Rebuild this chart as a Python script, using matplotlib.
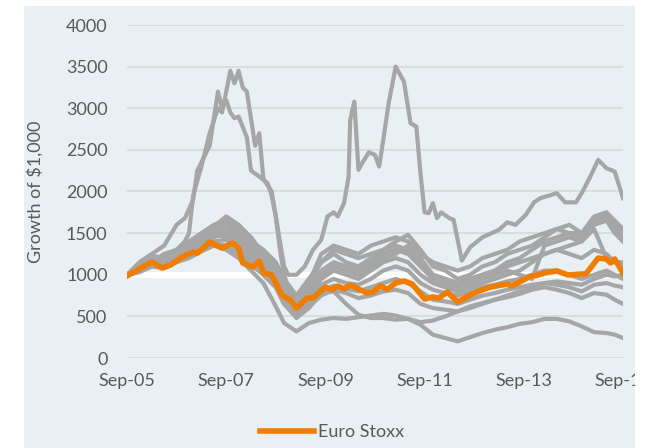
#!/usr/bin/env python3
"""
Growth of $1,000 - Euro Stoxx vs individual holdings (Sep-05 to Sep-15)

Gray lines are single stocks, the orange line is the Euro Stoxx index.
x values are months since Sep-05.
"""

import matplotlib
matplotlib.use("Agg")
import matplotlib.pyplot as plt
from matplotlib.patches import Rectangle

plt.rcParams.update({
    'font.family': ['Lato', 'DejaVu Sans'],
    'font.size': 13,
    'axes.linewidth': 0,
})

# x tick positions (months since Sep-05) and their labels
tick_months = [0, 24, 48, 72, 96, 120]
tick_labels = ['Sep-05', 'Sep-07', 'Sep-09', 'Sep-11', 'Sep-13', 'Sep-15']
y_ticks = [0, 500, 1000, 1500, 2000, 2500, 3000, 3500, 4000]

# shared month grid for most of the gray lines
grid_m = [0, 3, 6, 9, 12, 15, 18, 21, 24, 27, 30, 33, 36, 38, 41, 44, 47, 50, 53, 56, 59,
          62, 65, 68, 71, 74, 77, 80, 83, 86, 89, 92, 95, 98, 101, 104, 107, 110, 113, 116, 118, 120]

stock_c = [1000, 1120, 1230, 1200, 1300, 1400, 1500, 1600, 1650, 1550, 1400, 1300, 1150, 950, 750,
           950, 1150, 1250, 1150, 1100, 1200, 1300, 1400, 1480, 1300, 1100, 1050, 950, 1000, 1100,
           1150, 1250, 1300, 1350, 1450, 1550, 1600, 1500, 1700, 1750, 1650, 1550]
stock_d = [1000, 1080, 1180, 1150, 1250, 1350, 1450, 1550, 1600, 1500, 1350, 1200, 1050, 850, 650,
           800, 1000, 1100, 1050, 1000, 1100, 1200, 1250, 1350, 1200, 1000, 950, 900, 950, 1000,
           1050, 1150, 1200, 1300, 1400, 1450, 1500, 1450, 1650, 1700, 1550, 1450]
stock_e = [1000, 1100, 1200, 1180, 1280, 1380, 1480, 1580, 1700, 1600, 1450, 1250, 1100, 900, 700,
           850, 1050, 1150, 1100, 1050, 1150, 1250, 1300, 1250, 1100, 950, 900, 850, 900, 950,
           1000, 1050, 1000, 950, 1350, 1400, 1450, 1400, 1600, 1650, 1500, 1400]
stock_f = [1000, 1060, 1150, 1130, 1220, 1320, 1420, 1500, 1550, 1450, 1300, 1150, 1000, 800, 620,
           750, 950, 1050, 1000, 950, 1050, 1150, 1200, 1150, 1000, 900, 850, 800, 850, 900,
           950, 1000, 1050, 1150, 1250, 1300, 1350, 1400, 1550, 1200, 1150, 1150]
stock_g = [1000, 1050, 1130, 1120, 1200, 1280, 1380, 1450, 1500, 1400, 1250, 1100, 950, 750, 580,
           700, 880, 950, 900, 880, 950, 1050, 1100, 1050, 900, 820, 780, 750, 800, 850,
           880, 920, 950, 1000, 1050, 1050, 1000, 950, 1000, 1050, 1000, 950]
stock_h = [1000, 1080, 1160, 1150, 1230, 1300, 1400, 1480, 1450, 1350, 1200, 1050, 900, 700, 560,
           650, 800, 870, 830, 800, 850, 900, 950, 900, 800, 700, 680, 650, 700, 750,
           780, 820, 850, 880, 900, 880, 850, 800, 880, 900, 870, 850]
stock_i = [1000, 1040, 1120, 1100, 1180, 1250, 1330, 1400, 1420, 1300, 1150, 1000, 850, 650, 480,
           600, 780, 800, 650, 520, 480, 480, 460, 470, 430, 450, 500, 560, 620, 660,
           700, 730, 770, 820, 850, 820, 780, 720, 780, 760, 700, 650]
stock_j = [1000, 1050, 1100, 1080, 1150, 1200, 1280, 1350, 1300, 1200, 1050, 900, 620, 420, 320,
           420, 460, 480, 470, 490, 510, 530, 510, 470, 400, 280, 240, 200, 250, 300,
           340, 370, 410, 430, 470, 470, 440, 380, 310, 300, 280, 240]
stock_k = [1000, 1100, 1180, 1160, 1260, 1350, 1450, 1550, 1620, 1550, 1400, 1250, 1100, 900, 680,
           900, 1150, 1300, 1250, 1200, 1250, 1300, 1350, 1300, 1150, 1000, 950, 900, 950, 1000,
           1050, 1100, 1150, 1200, 1250, 1300, 1250, 1200, 1300, 1250, 1150, 1100]
stock_l = [1000, 1030, 1100, 1090, 1170, 1250, 1320, 1380, 1350, 1250, 1120, 1000, 850, 650, 520,
           620, 750, 820, 780, 720, 750, 800, 820, 780, 650, 600, 580, 560, 600, 650,
           700, 750, 800, 850, 900, 920, 900, 880, 950, 1000, 980, 1000]

# the two spiky names get their own month lists
stock_a_m = [0, 3, 6, 9, 12, 14, 16, 17, 18.5, 20, 22, 23, 24, 25, 26, 27, 29, 30, 32, 34, 35, 36, 37,
             38, 39, 41, 44, 47, 50, 53, 56, 59, 62, 65, 68, 71, 74, 77, 80, 83, 86, 89, 92, 95, 98,
             101, 104, 107, 110, 113, 116, 118, 120]
stock_a = [1000, 1150, 1250, 1350, 1600, 1680, 1900, 2250, 2400, 2550, 3200, 3000, 3100, 2950, 2880,
           2900, 2650, 2250, 2180, 2100, 1950, 1700, 1300, 1000, 850, 720, 900, 1250, 1350, 1300,
           1250, 1350, 1400, 1450, 1400, 1250, 1150, 1100, 1050, 1100, 1200, 1250, 1300, 1400, 1450,
           1500, 1550, 1500, 1500, 1650, 1700, 1600, 1500]

stock_b_m = [0, 3, 6, 9, 12, 14, 15, 16, 18, 20, 22, 23, 24, 25, 26, 27, 28, 29, 31, 32, 33, 35, 36,
             37, 38, 39, 41, 43, 45, 47, 48.5, 50, 51, 52.5, 53.6, 54, 55, 56, 57, 58.5, 60, 61, 62,
             63.3, 65, 67, 68.6, 70, 71, 72, 73, 74, 75, 76, 78, 79, 80, 81, 83, 86, 90, 92, 94,
             96.5, 98.5, 100, 104, 106, 108.6, 110, 112, 114, 116, 118, 120]
stock_b = [1000, 1100, 1150, 1250, 1300, 1400, 1500, 1950, 2300, 2700, 3000, 2950, 3200, 3450, 3300,
           3450, 3250, 3200, 2550, 2700, 2150, 2000, 1700, 1400, 1100, 1000, 1000, 1100, 1300, 1420,
           1700, 1750, 1700, 1860, 2170, 2860, 3080, 2260, 2350, 2470, 2440, 2300, 2620, 3060, 3500,
           3320, 2820, 2780, 2220, 1750, 1740, 1860, 1680, 1750, 1680, 1660, 1420, 1170, 1330, 1450,
           1540, 1630, 1600, 1720, 1870, 1920, 1980, 1870, 1870, 1980, 2170, 2380, 2280, 2240, 1920]

# Euro Stoxx index
euro_m = [0, 2, 4, 6, 8.5, 10.5, 13.3, 16, 17, 20, 23, 25.5, 27, 28, 30.5, 32, 33, 35, 37.5, 39.5,
          41, 43.6, 45, 48, 49.5, 51, 52.5, 54, 56, 58, 59.5, 61.3, 63, 65, 67, 69, 72, 74, 75.5,
          77.5, 80, 83, 86, 88, 92, 93, 94.5, 97.7, 99, 101, 104, 106.7, 110, 111, 114, 116, 117,
          118, 120]
euro_stoxx = [985, 1040, 1100, 1153, 1081, 1117, 1213, 1273, 1260, 1393, 1321, 1381, 1321, 1141, 1093,
              1165, 1021, 997, 757, 697, 600, 721, 721, 853, 817, 865, 830, 877, 830, 781,
              793, 865, 825, 901, 925, 889, 709, 733, 721, 793, 673, 757, 820, 853, 889,
              865, 901, 985, 990, 1021, 1045, 997, 1009, 1009, 1201, 1189, 1141, 1189, 1021]

GRAY = '#A6A6A6'
ORANGE = '#F07C00'
PANEL = '#E8F0F3'
TEXT = '#595959'


def main():
    fig = plt.figure(figsize=(6.46, 4.48), dpi=100, facecolor='white')

    # light panel behind the chart
    fig.add_artist(Rectangle((24 / 646, 0), (635 - 24) / 646, 442 / 448,
                             transform=fig.transFigure, facecolor=PANEL,
                             edgecolor='none', zorder=-10))

    ax = fig.add_axes([127 / 646, 90 / 448, 496 / 646, 333 / 448])
    ax.set_facecolor('none')

    # baseline band at $1,000
    ax.plot([grid_m[0], grid_m[-1]], [1000, 1000], color='white', lw=4.5, zorder=1,
            solid_capstyle='butt')

    grid_series = [stock_c, stock_d, stock_e, stock_f, stock_g, stock_h,
                   stock_i, stock_j, stock_k, stock_l]
    for vals in grid_series:
        ax.plot(grid_m, vals, color=GRAY, lw=3.0, zorder=2)
    ax.plot(stock_a_m, stock_a, color=GRAY, lw=3.0, zorder=2)
    ax.plot(stock_b_m, stock_b, color=GRAY, lw=3.0, zorder=2)

    ax.plot(euro_m, euro_stoxx, color=ORANGE, lw=4.0, zorder=3, label='Euro Stoxx')

    ax.set_xlim(0, 120)
    ax.set_ylim(0, 4000)
    ax.set_xticks(tick_months)
    ax.set_xticklabels(tick_labels)
    ax.set_yticks(y_ticks)
    ax.tick_params(axis='both', length=0, colors=TEXT, labelsize=13)
    ax.tick_params(axis='x', pad=11)
    ax.tick_params(axis='y', pad=14)
    for lbl in ax.get_xticklabels():
        lbl.set_clip_on(False)

    ax.grid(axis='y', color='#D9D9D9', lw=1.2)
    ax.set_axisbelow(True)
    for s in ax.spines.values():
        s.set_visible(False)

    ax.set_ylabel('Growth of $1,000', color=TEXT, fontsize=13)
    ax.yaxis.set_label_coords(-0.169, 0.5)

    fig.legend(loc='center', bbox_to_anchor=(332 / 646, 16 / 448), frameon=False,
               handlelength=3.0, handletextpad=0.25, borderpad=0, fontsize=13,
               labelcolor=TEXT)

    # white margins that cut off the last tick label
    fig.add_artist(Rectangle((635 / 646, 0), 11 / 646, 1, transform=fig.transFigure,
                             facecolor='white', edgecolor='none', zorder=20))
    fig.add_artist(Rectangle((0, 442 / 448), 1, 6 / 448, transform=fig.transFigure,
                             facecolor='white', edgecolor='none', zorder=20))

    fig.savefig('out.png', dpi=100, facecolor='white')
    plt.close(fig)


if __name__ == "__main__":
    main()
